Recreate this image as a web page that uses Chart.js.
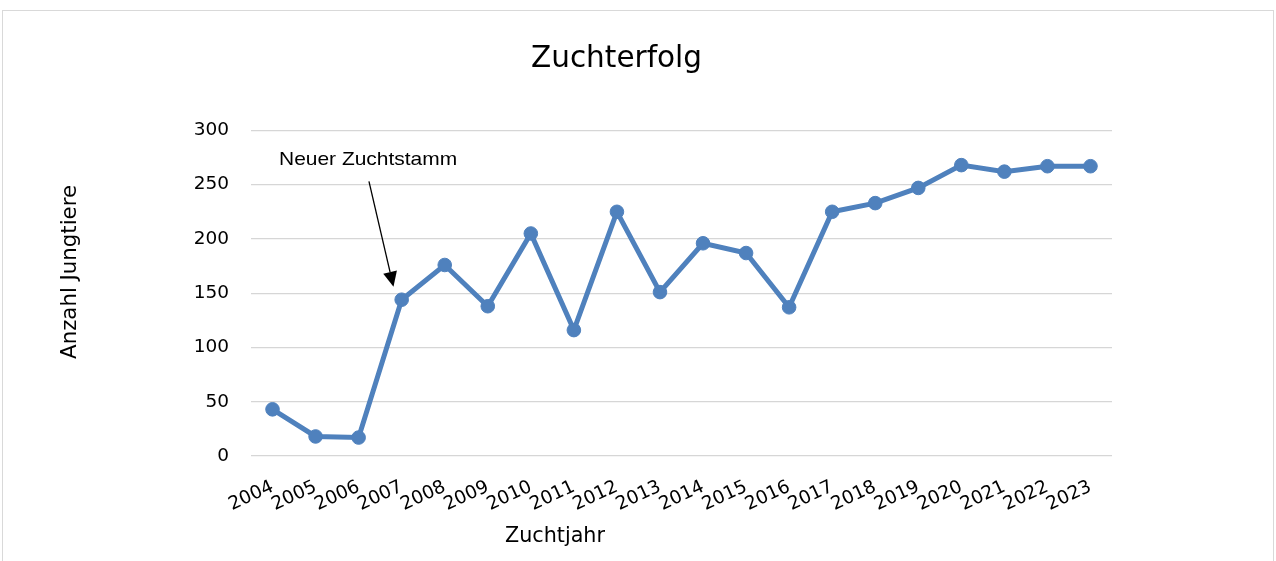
<!DOCTYPE html>
<html><head><meta charset="utf-8">
<script src="https://cdn.jsdelivr.net/npm/chart.js@4.4.0/dist/chart.umd.min.js"></script>
<style>
html,body{margin:0;padding:0;background:#fff;}
#wrap{position:relative;width:1276px;height:561px;overflow:hidden;}
#frame{position:absolute;left:2px;top:10px;width:1270px;height:560px;border:1px solid #d9d9d9;pointer-events:none;}
canvas{position:absolute;left:0;top:0;}
</style></head><body>
<div id="wrap"><canvas id="c" width="1276" height="561"></canvas><div id="frame"></div></div>
<script>
const years = ['2004','2005','2006','2007','2008','2009','2010','2011','2012','2013','2014','2015','2016','2017','2018','2019','2020','2021','2022','2023'];
const offspring = [43,18,17,144,176,138,205,116,225,151,196,187,137,225,233,247,268,262,267,267];
const yTickValues = [0,50,100,150,200,250,300];
const chartTitle = 'Zuchterfolg';
const xTitle = 'Zuchtjahr';
const yTitle = 'Anzahl Jungtiere';
const noteText = 'Neuer Zuchtstamm';
const noteTextAt = [2.22, 273];   // [category index, value]
const noteArrowFrom = [2.24, 253];
const noteArrowTo = [2.81, 156];

const F = '"DejaVu Sans", sans-serif';
const A = '"Liberation Sans", Arial, sans-serif';

const extras = {
  id: 'extras',
  afterDraw(chart) {
    const {ctx, chartArea: a, scales: {x, y}} = chart;
    const px = i => x.getPixelForValue(0) + i * (x.getPixelForValue(1) - x.getPixelForValue(0));
    ctx.save();
    ctx.fillStyle = '#000';
    ctx.textAlign = 'center';
    ctx.textBaseline = 'middle';
    ctx.font = '20.7px ' + F;
    ctx.fillText(xTitle, a.left + 304, a.bottom + 81);
    ctx.save();
    ctx.font = '21.3px ' + F;
    ctx.translate(70, a.top + 141.5);
    ctx.rotate(-Math.PI / 2);
    ctx.fillText(yTitle, 0, 0);
    ctx.restore();
    // annotation
    ctx.save();
    ctx.font = '18.6px ' + A;
    ctx.translate(px(noteTextAt[0]), y.getPixelForValue(noteTextAt[1]));
    ctx.scale(1.127, 1);
    ctx.fillText(noteText, 0, 0);
    ctx.restore();
    const x1 = px(noteArrowFrom[0]), y1 = y.getPixelForValue(noteArrowFrom[1]);
    const x2 = px(noteArrowTo[0]), y2 = y.getPixelForValue(noteArrowTo[1]);
    const ang = Math.atan2(y2 - y1, x2 - x1);
    const L = 15, W = 7;
    const bx = x2 - L * Math.cos(ang), by = y2 - L * Math.sin(ang);
    ctx.strokeStyle = '#000';
    ctx.lineWidth = 1.3;
    ctx.beginPath(); ctx.moveTo(x1, y1); ctx.lineTo(bx, by); ctx.stroke();
    ctx.beginPath();
    ctx.moveTo(x2, y2);
    ctx.lineTo(bx + W * Math.sin(ang), by - W * Math.cos(ang));
    ctx.lineTo(bx - W * Math.sin(ang), by + W * Math.cos(ang));
    ctx.closePath(); ctx.fill();
    ctx.restore();
  }
};

new Chart(document.getElementById('c'), {
  type: 'line',
  data: {
    labels: years,
    datasets: [{
      data: offspring,
      borderColor: '#4f81bd',
      backgroundColor: '#4f81bd',
      borderWidth: 5,
      pointRadius: 6.8,
      pointBorderWidth: 1,
      pointBackgroundColor: '#4f81bd',
      pointBorderColor: '#4f81bd',
      tension: 0,
      fill: false
    }]
  },
  options: {
    responsive: false,
    animation: false,
    devicePixelRatio: 1,
    layout: {padding: {left: 121, right: 164, top: 0, bottom: 0}},
    plugins: {
      legend: {display: false},
      tooltip: {enabled: false},
      title: {
        display: true, text: chartTitle, color: '#000',
        font: {family: F, size: 29.5, weight: 'normal'},
        padding: {top: 42, bottom: 53}
      }
    },
    scales: {
      x: {
        offset: true,
        grid: {display: false, drawTicks: false},
        border: {display: false},
        ticks: {color: '#000', font: {family: F, size: 18.5}, minRotation: 25, maxRotation: 25, autoSkip: false, padding: 20},
        afterFit(s) { s.height = 105; }
      },
      y: {
        min: 0, max: 300,
        afterBuildTicks(s) { s.ticks = yTickValues.map(v => ({value: v})); },
        grid: {color: '#d6d6d6', lineWidth: 1.3, drawTicks: false},
        border: {display: false},
        ticks: {color: '#000', font: {family: F, size: 18.5}, padding: 22},
        afterFit(s) { s.width = 130; }
      }
    }
  },
  plugins: [extras]
});
</script>
</body></html>
